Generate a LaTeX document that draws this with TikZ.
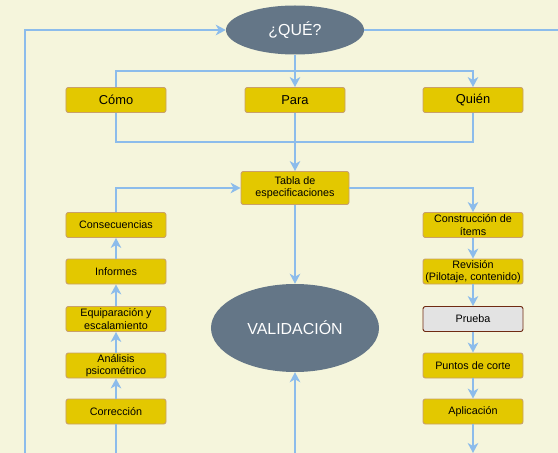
\documentclass[tikz,border=0pt]{standalone}
\usepackage{fontspec}
\setmainfont{Liberation Sans}
\usetikzlibrary{shapes.geometric,arrows.meta}
\definecolor{bgcream}{HTML}{F5F5DC}
\definecolor{boxfill}{HTML}{E3C800}
\definecolor{boxline}{HTML}{C9A06A}
\definecolor{grayfill}{HTML}{E3E3E3}
\definecolor{grayline}{HTML}{6F2A12}
\definecolor{ovalfill}{HTML}{647687}
\definecolor{flowblue}{HTML}{8CBCEB}
\begin{document}
\begin{tikzpicture}[
            x=0.03cm, y=-0.03cm,
            every node/.style={font=\fontsize{9.2}{10.5}\selectfont, align=center, inner sep=0pt},
            box/.style={rectangle, rounded corners=2pt, draw=boxline, fill=boxfill, line width=0.8pt,
                        minimum width=3cm, minimum height=0.75cm},
            bigbox/.style={box, font=\fontsize{11}{13}\selectfont},
            graybox/.style={box, draw=grayline, fill=grayfill},
            oval/.style={ellipse, fill=ovalfill, text=white, font=\fontsize{13.6}{16}\selectfont},
            line/.style={draw=flowblue, line width=1.6pt},
            flow/.style={line, -{Stealth[length=8.5pt,width=9pt,inset=2.5pt]}}
            ]
            \useasboundingbox (0,0) rectangle (558,453);
            \fill[bgcream] (0,0) rectangle (558,453);

            \node[oval, minimum width=4.14cm, minimum height=1.47cm] (quenode) at (295,30) {¿QUÉ?};

            \node[bigbox] (comonode) at (116,100) {Cómo};
            \node[bigbox] (paranode) at (295,100) {Para};
            \node[bigbox] (quiennode) at (473,100) {Quién};

            \node[box, minimum width=3.24cm, minimum height=0.99cm] (tablanode) at (295,188) {Tabla de\\especificaciones};

            \node[oval, minimum width=5.04cm, minimum height=2.64cm] (validnode) at (295,328) {VALIDACIÓN};

            % left column, read bottom to top
            \node[box] (left1) at (116,411.5) {Corrección};
            \node[box] (left2) at (116,365.5) {Análisis\\psicométrico};
            \node[box] (left3) at (116,319) {Equiparación y\\escalamiento};
            \node[box] (left4) at (116,271.5) {Informes};
            \node[box] (left5) at (116,225) {Consecuencias};

            % right column, read top to bottom
            \node[box] (right1) at (473,225) {Construcción de\\ítems};
            \node[box] (right2) at (473,271.5) {Revisión\\(Pilotaje, contenido)};
            \node[graybox] (right3) at (473,319) {Prueba};
            \node[box] (right4) at (473,365.5) {Puntos de corte};
            \node[box] (right5) at (473,411.5) {Aplicación};

            \coordinate (topsplit) at (295,71);
            \coordinate (botjoin) at (295,142);
            \coordinate (outerend) at (25,453);
            \coordinate (leftend) at (116,453);
            \coordinate (validend) at (295,453);
            \coordinate (rightend) at (473,453);
            \coordinate (edgeend) at (558,30);

            \draw[flow] (outerend) |- (quenode.west);
            \draw[line] (quenode.east) -- (edgeend);

            \draw[flow] (quenode.south) -- (paranode.north);
            \draw[line] (comonode.north) |- (topsplit);
            \draw[flow] (topsplit) -| (quiennode.north);

            \draw[line] (comonode.south) |- (botjoin);
            \draw[line] (quiennode.south) |- (botjoin);
            \draw[flow] (paranode.south) -- (tablanode.north);

            \draw[flow] (tablanode.south) -- (validnode.north);
            \draw[flow] (tablanode.east) -| (right1.north);
            \draw[flow] (left5.north) |- (tablanode.west);

            \foreach \a/\b in {1/2,2/3,3/4,4/5}{
                \draw[flow] (left\a.north) -- (left\b.south);
                \draw[flow] (right\a.south) -- (right\b.north);
            }

            \draw[line] (left1.south) -- (leftend);
            \draw[flow] (validend) -- (validnode.south);
            \draw[flow] (right5.south) -- (rightend);
        \end{tikzpicture}
\end{document}
